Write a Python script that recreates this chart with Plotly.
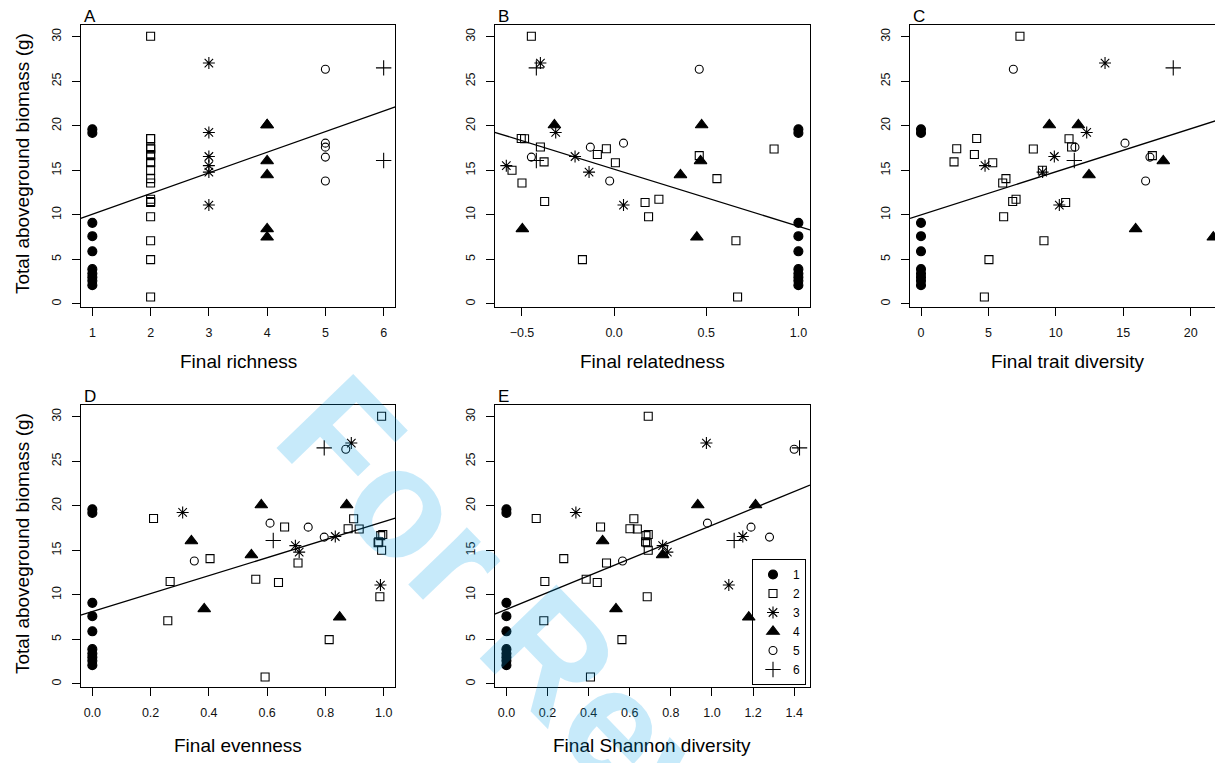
import plotly.graph_objects as go

# ---------------- data (one entry per plot) ----------------
# symbol group = sown richness (legend 1..6)
group = [1, 1, 1, 1, 1, 1, 1, 1, 1, 1,
         2, 2, 2, 2, 2, 2, 2, 2, 2, 2, 2, 2, 2, 2, 2, 2, 2, 2, 2, 2,
         3, 3, 3, 3, 3, 3,
         4, 4, 4, 4, 4, 4,
         5, 5, 5, 5, 5,
         6, 6]
biomass = [19.6, 19.2, 9.1, 7.6, 5.9, 3.9, 3.4, 3.0, 2.6, 2.1,
           30.05, 18.57, 18.55, 17.62, 17.42, 17.40, 16.78, 16.65, 15.95, 15.85,
           15.00, 14.07, 13.58, 11.75, 11.50, 11.38, 9.78, 7.08, 4.97, 0.77,
           27.05, 19.25, 16.55, 15.52, 14.80, 11.10,
           20.09, 20.09, 16.05, 14.48, 8.42, 7.48,
           26.35, 18.05, 17.60, 16.48, 13.80,
           26.50, 16.10]
richness = [1, 1, 1, 1, 1, 1, 1, 1, 1, 1,
            2, 2, 2, 2, 2, 2, 2, 2, 2, 2, 2, 2, 2, 2, 2, 2, 2, 2, 2, 2,
            3, 3, 3, 3, 3, 3,
            4, 4, 4, 4, 4, 4,
            5, 5, 5, 5, 5,
            6, 6]
relatedness = [1.0, 1.0, 1.0, 1.0, 1.0, 1.0, 1.0, 1.0, 1.0, 1.0,
               -0.449, -0.504, -0.486, -0.400, -0.042, 0.868, -0.091, 0.462, -0.380, 0.007,
               -0.554, 0.558, -0.500, 0.243, -0.377, 0.168, 0.187, 0.661, -0.172, 0.670,
               -0.400, -0.317, -0.212, -0.585, -0.136, 0.051,
               -0.324, 0.475, 0.469, 0.360, -0.498, 0.449,
               0.462, 0.051, -0.129, -0.449, -0.024,
               -0.422, -0.422]
trait_div = [0, 0, 0, 0, 0, 0, 0, 0, 0, 0,
             7.34, 4.13, 10.98, 11.17, 2.65, 8.33, 3.96, 17.16, 2.45, 5.32,
             9.00, 6.30, 6.06, 7.05, 6.80, 10.73, 6.13, 9.12, 5.04, 4.70,
             13.65, 12.29, 9.89, 4.75, 9.02, 10.26,
             9.52, 11.67, 17.97, 12.46, 15.92, 21.68,
             6.85, 15.13, 11.42, 16.98, 16.66,
             18.71, 11.37]
evenness = [0, 0, 0, 0, 0, 0, 0, 0, 0, 0,
            0.993, 0.210, 0.897, 0.660, 0.878, 0.916, 0.997, 0.990, 0.983, 0.981,
            0.993, 0.404, 0.706, 0.561, 0.267, 0.639, 0.987, 0.259, 0.813, 0.593,
            0.889, 0.310, 0.834, 0.697, 0.710, 0.989,
            0.580, 0.873, 0.340, 0.546, 0.384, 0.849,
            0.870, 0.610, 0.741, 0.796, 0.350,
            0.796, 0.621]
shannon = [0, 0, 0, 0, 0, 0, 0, 0, 0, 0,
           0.690, 0.145, 0.620, 0.458, 0.601, 0.637, 0.690, 0.679, 0.677, 0.685,
           0.690, 0.279, 0.487, 0.388, 0.187, 0.442, 0.685, 0.182, 0.562, 0.409,
           0.973, 0.338, 1.150, 0.760, 0.783, 1.082,
           0.931, 1.212, 0.468, 0.760, 0.533, 1.179,
           1.400, 0.978, 1.190, 1.280, 0.565,
           1.426, 1.108]

# fitted regression lines (intercept, slope)
fit_intercept = [7.75, 15.12, 10.0, 8.12, 8.36]
fit_slope = [2.32, -6.405, 0.483, 10.08, 9.45]

panel_letters = ["A", "B", "C", "D", "E"]
x_titles = ["Final richness", "Final relatedness", "Final trait diversity",
            "Final evenness", "Final Shannon diversity"]
y_title = "Total aboveground biomass (g)"
x_tickvals = [[1, 2, 3, 4, 5, 6],
              [-0.5, 0.0, 0.5, 1.0],
              [0, 5, 10, 15, 20],
              [0.0, 0.2, 0.4, 0.6, 0.8, 1.0],
              [0.0, 0.2, 0.4, 0.6, 0.8, 1.0, 1.2, 1.4]]
x_tickformat = ["d", ".1f", "d", ".1f", ".1f"]
y_tickvals = [0, 5, 10, 15, 20, 25, 30]
legend_labels = ["1", "2", "3", "4", "5", "6"]
watermark = "For Review"

# ---------------- layout geometry (page pixels) ----------------
OFF = 8                      # page body margin around the figure
FW, FH = 1223 - OFF, 763 - OFF


def fx(p):
    return (p - OFF) / FW


def fy(p):
    return 1 - (p - OFF) / FH


box_left = [80.7, 494.7, 910, 80.7, 494.7]
box_right = [395.3, 810, 1223, 395.3, 810]
box_top = [25, 25, 25, 405, 405]
box_bottom = [306.7, 306.7, 306.7, 686.7, 686.7]
x_ranges = [[0.8, 6.2], [-0.648, 1.063], [-0.816, 22.40], [-0.04, 1.04], [-0.057, 1.477]]
y_range = [-0.32, 31.32]

symbols = {1: "circle", 2: "square-open", 3: "asterisk-open",
           4: "triangle-up", 5: "circle-open", 6: "cross-thin-open"}
sizes = {1: 9, 2: 8, 3: 10, 4: 11, 5: 8, 6: 11}

FONT = "Liberation Sans, Arial, Helvetica, sans-serif"

xvars = [richness, relatedness, trait_div, evenness, shannon]

fig = go.Figure()

for p in range(5):
    ax = "" if p == 0 else str(p + 1)
    xref, yref = "x" + ax, "y" + ax
    # regression line across the plotting region
    x0, x1 = x_ranges[p]
    fig.add_trace(go.Scatter(
        x=[x0, x1],
        y=[fit_intercept[p] + fit_slope[p] * x0, fit_intercept[p] + fit_slope[p] * x1],
        mode="lines", line=dict(color="black", width=1.3),
        xaxis=xref, yaxis=yref, showlegend=False, hoverinfo="skip"))
    for g in range(1, 7):
        idx = [i for i in range(len(group)) if group[i] == g]
        fig.add_trace(go.Scatter(
            x=[xvars[p][i] for i in idx],
            y=[biomass[i] for i in idx],
            mode="markers",
            name=legend_labels[g - 1],
            legendgroup=str(g),
            showlegend=(p == 4),
            marker=dict(symbol=symbols[g], size=sizes[g], color="black",
                        line=dict(color="black", width=1.1)),
            xaxis=xref, yaxis=yref))

layout = dict(
    width=FW, height=FH, autosize=False,
    margin=dict(l=0, r=0, t=0, b=0, pad=0),
    paper_bgcolor="white", plot_bgcolor="white",
    font=dict(family=FONT, color="black"),
    showlegend=True,
    legend=dict(x=fx(806), xanchor="right", y=fy(685), yanchor="bottom",
                bordercolor="black", borderwidth=1, bgcolor="rgba(0,0,0,0)",
                font=dict(size=12, family=FONT, color="black"),
                tracegroupgap=0, itemwidth=30),
)

annotations = []
for p in range(5):
    ax = "" if p == 0 else str(p + 1)
    xd = [fx(box_left[p]), min(1.0, fx(box_right[p]))]
    yd = [fy(box_bottom[p]), fy(box_top[p])]
    layout["xaxis" + ax] = dict(
        domain=xd, range=x_ranges[p], anchor="y" + ax,
        tickvals=x_tickvals[p], tickformat=x_tickformat[p],
        ticks="outside", ticklen=8, tickwidth=1, tickcolor="black",
        showline=True, linecolor="black", linewidth=1, mirror=True,
        showgrid=False, zeroline=False, ticklabelstandoff=6,
        tickfont=dict(size=12.5, family=FONT, color="#111"))
    layout["yaxis" + ax] = dict(
        domain=yd, range=y_range, anchor="x" + ax,
        tickvals=y_tickvals, tickangle=-90,
        ticks="outside", ticklen=8, tickwidth=1, tickcolor="black",
        showline=True, linecolor="black", linewidth=1, mirror=(p != 2),
        showgrid=False, zeroline=False, ticklabelstandoff=6,
        tickfont=dict(size=12.5, family=FONT, color="#111"))
    # panel letter
    annotations.append(dict(
        text=panel_letters[p], xref="paper", yref="paper",
        x=fx(box_left[p] + 1), y=fy(box_top[p] + 3),
        xanchor="left", yanchor="bottom", showarrow=False,
        font=dict(size=17, family=FONT, color="black")))
    # x title
    cx = (box_left[p] + (box_right[p] if p != 2 else 1225)) / 2
    cy = 361.7 if p < 3 else 745
    annotations.append(dict(
        text=x_titles[p], xref="paper", yref="paper",
        x=fx(cx), y=fy(cy), xanchor="center", yanchor="middle",
        showarrow=False, font=dict(size=19, family=FONT, color="black")))

for cy in [164, 544]:
    annotations.append(dict(
        text=y_title, xref="paper", yref="paper",
        x=fx(22), y=fy(cy), xanchor="center", yanchor="middle",
        textangle=-90, showarrow=False,
        font=dict(size=19, family=FONT, color="black")))

# watermark
annotations.append(dict(
    text=watermark, xref="paper", yref="paper",
    x=fx(595), y=fy(700), xanchor="center", yanchor="middle",
    textangle=46, showarrow=False,
    font=dict(size=155, family=FONT, color="rgba(0,160,230,0.22)", weight="bold")))

layout["annotations"] = annotations
fig.update_layout(**layout)

fig.write_html("out.html")
